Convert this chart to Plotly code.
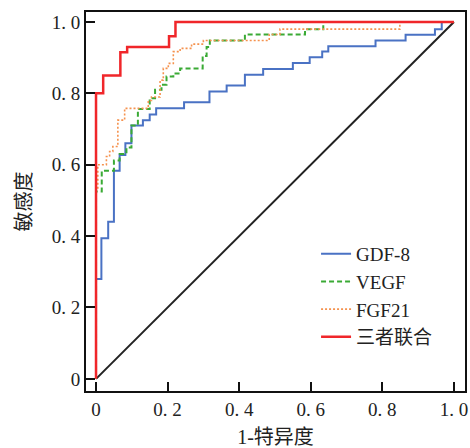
import plotly.graph_objects as go

# ROC step points (1-specificity, sensitivity)
gdf8_fpr = [0, 0, 0.015, 0.034, 0.05, 0.066, 0.082, 0.099, 0.131, 0.15, 0.168, 0.246, 0.317, 0.365,
            0.416, 0.467, 0.55, 0.597, 0.632, 0.649, 0.781, 0.865, 0.947, 0.966, 1.0]
gdf8_tpr = [0, 0.28, 0.394, 0.44, 0.583, 0.627, 0.66, 0.71, 0.725, 0.741, 0.758, 0.775, 0.805, 0.822,
            0.852, 0.868, 0.885, 0.901, 0.917, 0.932, 0.948, 0.964, 0.98, 1.0, 1.0]

vegf_fpr = [0, 0, 0.016, 0.05, 0.066, 0.085, 0.099, 0.117, 0.15, 0.165, 0.183, 0.197, 0.216, 0.235,
            0.298, 0.309, 0.318, 0.416, 0.584, 0.635, 1.0]
vegf_tpr = [0, 0.525, 0.583, 0.612, 0.63, 0.648, 0.71, 0.756, 0.786, 0.81, 0.824, 0.847, 0.856, 0.87,
            0.905, 0.93, 0.948, 0.965, 0.98, 1.0, 1.0]

fgf21_fpr = [0, 0, 0.005, 0.029, 0.038, 0.047, 0.061, 0.08, 0.146, 0.155, 0.179, 0.188, 0.202, 0.216,
             0.235, 0.267, 0.3, 0.484, 0.514, 0.849, 1.0]
fgf21_tpr = [0, 0.53, 0.6, 0.623, 0.637, 0.651, 0.725, 0.758, 0.78, 0.79, 0.837, 0.87, 0.884, 0.917,
             0.926, 0.938, 0.948, 0.965, 0.98, 1.0, 1.0]

combo_fpr = [0, 0, 0.02, 0.068, 0.087, 0.204, 0.222, 1.0]
combo_tpr = [0, 0.8, 0.85, 0.915, 0.93, 0.96, 1.0, 1.0]

ref_line = [0, 1]

tick_vals = [0, 0.2, 0.4, 0.6, 0.8, 1.0]
tick_text = ["0", "0. 2", "0. 4", "0. 6", "0. 8", "1. 0"]

FONT = "Liberation Serif, Noto Sans CJK SC, serif"

fig = go.Figure()
fig.add_trace(go.Scatter(x=ref_line, y=ref_line, mode="lines", showlegend=False,
                         line=dict(color="#222222", width=2)))
fig.add_trace(go.Scatter(x=gdf8_fpr, y=gdf8_tpr, mode="lines", name="GDF-8", line_shape="hv",
                         line=dict(color="#4a72c4", width=2)))
fig.add_trace(go.Scatter(x=vegf_fpr, y=vegf_tpr, mode="lines", name="VEGF", line_shape="hv",
                         line=dict(color="#3aaa35", width=2, dash="5px,3px")))
fig.add_trace(go.Scatter(x=fgf21_fpr, y=fgf21_tpr, mode="lines", name="FGF21", line_shape="hv",
                         line=dict(color="#f5924e", width=1.6, dash="2px,2px")))
fig.add_trace(go.Scatter(x=combo_fpr, y=combo_tpr, mode="lines", name="三者联合", line_shape="hv",
                         line=dict(color="#f0262a", width=2.5)))

axis_common = dict(showgrid=False, zeroline=False, showline=True, mirror=True, automargin=False,
                   linecolor="#111111", linewidth=2, ticks="inside", ticklen=9,
                   tickwidth=2, tickcolor="#111111", tickvals=tick_vals, ticktext=tick_text,
                   tickfont=dict(family=FONT, size=19, color="#222222"))

fig.update_layout(
    width=470, height=448,
    margin=dict(l=86, r=5, t=12, b=57),
    paper_bgcolor="white", plot_bgcolor="white",
    font=dict(family=FONT, color="#222222"),
    xaxis=dict(range=[-0.028, 1.031], title=dict(text="1-特异度", font=dict(family=FONT, size=20)),
               **axis_common),
    yaxis=dict(range=[-0.034, 1.028], title=dict(text="敏感度", font=dict(family=FONT, size=20)),
               **axis_common),
    legend=dict(x=0.607, y=0.412, xanchor="left", yanchor="top", bgcolor="rgba(0,0,0,0)",
                font=dict(family=FONT, size=19, color="#222222"), tracegroupgap=0,
                itemwidth=30),
)

fig.write_html("out.html", config={"displayModeBar": False},
               post_script="document.body.style.margin='0px';")
